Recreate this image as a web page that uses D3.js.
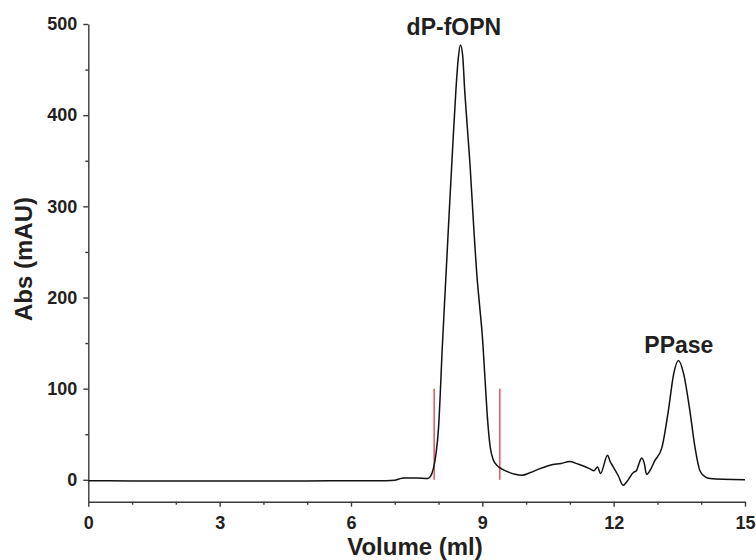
<!DOCTYPE html>
<html><head><meta charset="utf-8">
<script src="https://cdn.jsdelivr.net/npm/d3@7"></script>
<style>
body{margin:0;background:#fff;}
text{font-family:"Liberation Sans",Arial,Helvetica,sans-serif;font-weight:bold;fill:#231f20;}
</style></head>
<body><svg id="chart" width="756" height="560"></svg>
<script>
const volume = [0,1,2,3,4,5,6,6.8,7.0,7.1,7.2,7.5,7.75,7.82,7.88,7.94,8.0,8.04,8.08,8.16,8.24,8.32,8.40,8.45,8.50,8.55,8.60,8.66,8.72,8.80,8.88,8.94,9.0,9.06,9.12,9.18,9.25,9.33,9.44,9.6,9.75,9.9,10.1,10.3,10.55,10.8,11.0,11.2,11.46,11.55,11.63,11.7,11.86,11.92,12.0,12.1,12.22,12.3,12.45,12.52,12.58,12.64,12.7,12.75,12.85,12.94,13.1,13.25,13.37,13.48,13.6,13.74,13.86,13.97,14.1,14.2,14.5,15];
const absorbance = [-1,-1.2,-1.3,-1.3,-1.3,-1.2,-1.1,-1,-0.5,1,2,2,1.5,4,12,28,57,95,140,215,290,362,430,462,477,466,425,385,345,280,222,190,158,112,66,36,22,16,12,8.5,6,5,8,12,16,18,20,17,12,10,14,7,27,20,13.5,5,-6,-2,8,10,18,24,18,6,12,21,35,76,116,131,116,76,35,10,3,1.5,0.5,0.2];
const xTicks = [0,3,6,9,12,15];
const yTicks = [0,100,200,300,400,500];
const cutVolumes = [7.9,9.4];
const cutRange = [0,100];
const peakLabels = ["dP-fOPN","PPase"];
const peakVolumes = [8.35,13.49];
const peakValues = [488,139];

const svg = d3.select("#chart");
const x = d3.scaleLinear().domain([0,15]).range([88.3,745]);
const y = d3.scaleLinear().domain([-24,500]).range([501.7,24]);
const axisColor = "#3a3a3a";

// Y axis
const yAxis = d3.axisLeft(y).tickValues(yTicks).tickSize(5).tickPadding(6).tickSizeOuter(0);
const yg = svg.append("g").attr("transform",`translate(${x(0)},0)`).call(yAxis);
yg.selectAll(".tick text").style("font-size","18px");
svg.append("g").attr("transform",`translate(${x(0)},0)`)
  .call(d3.axisLeft(y).tickValues(d3.range(50,500,100)).tickSize(3).tickFormat("").tickSizeOuter(0))
  .select(".domain").remove();

// X axis
const xAxis = d3.axisBottom(x).tickValues(xTicks).tickSize(5).tickPadding(10).tickSizeOuter(0);
const xg = svg.append("g").attr("transform",`translate(0,${y(-24)})`).call(xAxis);
xg.selectAll(".tick text").style("font-size","18px");
svg.append("g").attr("transform",`translate(0,${y(-24)})`)
  .call(d3.axisBottom(x).tickValues(d3.range(0,16).filter(v=>v%3!==0)).tickSize(3).tickFormat("").tickSizeOuter(0))
  .select(".domain").remove();

svg.selectAll(".domain, .tick line").attr("stroke",axisColor).attr("stroke-width",1.4);
svg.selectAll(".tick text").attr("fill","#231f20").style("font-family","'Liberation Sans',Arial,sans-serif").style("font-weight","bold");

// Axis titles
svg.append("text").attr("x",415).attr("y",555).attr("text-anchor","middle").style("font-size","24px").text("Volume (ml)");
svg.append("text").attr("transform","translate(32,259) rotate(-90)").attr("text-anchor","middle").style("font-size","24px").text("Abs (mAU)");

// Fraction cut lines
svg.selectAll("line.cut").data(cutVolumes).enter().append("line").attr("class","cut")
  .attr("x1",d=>x(d)).attr("x2",d=>x(d)).attr("y1",y(cutRange[0])).attr("y2",y(cutRange[1]))
  .attr("stroke","#e8383d").attr("stroke-width",1.3);

// Chromatogram
const data = volume.map((v,i)=>[v,absorbance[i]]);
const line = d3.line().x(d=>x(d[0])).y(d=>y(d[1])).curve(d3.curveMonotoneX);
svg.append("path").datum(data).attr("d",line).attr("fill","none").attr("stroke","#111").attr("stroke-width",1.5);

// Peak labels
svg.selectAll("text.peak").data(peakLabels).enter().append("text").attr("class","peak")
  .attr("x",(d,i)=>x(peakVolumes[i])).attr("y",(d,i)=>y(peakValues[i]))
  .attr("text-anchor","middle").style("font-size","23px").text(d=>d);
</script></body></html>
